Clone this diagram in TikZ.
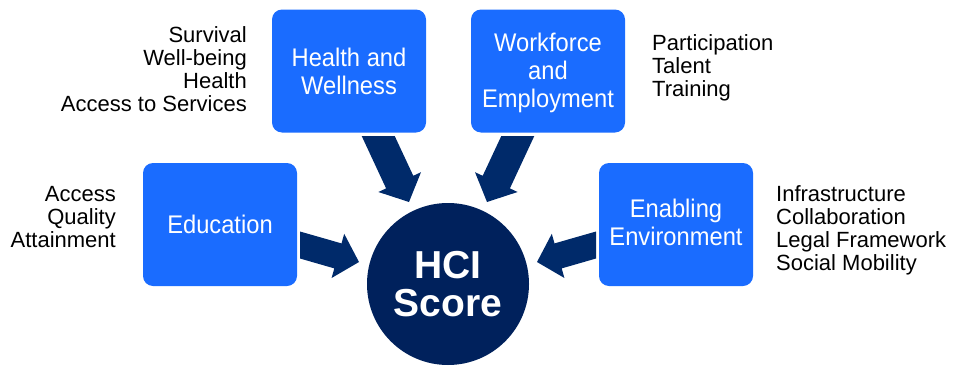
\documentclass[tikz,border=0pt]{standalone}
\usepackage{fontspec}
\setmainfont{Liberation Sans}
\newfontfamily\boxfont[FakeStretch=0.93]{Liberation Sans}
\definecolor{boxblue}{RGB}{26,108,255}
\definecolor{navy}{RGB}{0,33,92}
\definecolor{arrownavy}{RGB}{0,42,106}
\begin{document}
\begin{tikzpicture}[x=1pt,y=-1pt,
  pillar/.style={fill=boxblue, rounded corners=10pt, minimum width=154pt, minimum height=123pt,
    inner sep=0pt, text=white, align=center, font=\boxfont\fontsize{25.5}{28}\selectfont},
  factors/.style={inner sep=0pt, font=\fontsize{22}{23}\selectfont},
  blockarrow/.style={fill=arrownavy}]
\useasboundingbox (0,0) rectangle (953,367);

% block arrows
\fill[blockarrow] (361.7,136) -- (386.1,188.4) -- (378.4,192.0) -- (409,202) -- (421.0,172.2) -- (413.3,175.8) -- (394.7,136) -- cycle;
\fill[blockarrow] (534.3,136) -- (509.9,188.4) -- (517.6,192.0) -- (487,202) -- (475.0,172.2) -- (482.7,175.8) -- (501.3,136) -- cycle;
\fill[blockarrow] (300,231.5) -- (341.5,243.4) -- (344.2,233.8) -- (359,262) -- (331.6,278) -- (334.3,268.4) -- (300,258.5) -- cycle;
\fill[blockarrow] (596,231.5) -- (554.5,243.4) -- (551.8,233.8) -- (537,262) -- (564.4,278) -- (561.7,268.4) -- (596,258.5) -- cycle;

% pillars
\node[pillar] (health) at (349,71) {Health and\\Wellness};
\node[pillar] (work) at (548,71) {\rule{0pt}{22pt}Workforce\\and\\Employment};
\node[pillar] (edu) at (220,224.5) {Education};
\node[pillar] (env) at (676,224.5) {Enabling\\Environment\rule[-4pt]{0pt}{0pt}};

% centre
\node[circle, fill=navy, minimum size=162pt, inner sep=0pt, text=white, align=center,
  font=\bfseries\fontsize{39}{38}\selectfont] (hci) at (448,284) {HCI\\Score};

% factor lists
\node[factors, anchor=north east, align=right] (hwlist) at (247,26.5) {Survival\\Well-being\\Health\\Access to Services};
\node[factors, anchor=north west, align=left] (welist) at (652,34) {Participation\\Talent\\Training};
\node[factors, anchor=north east, align=right] (edulist) at (116,186.5) {Access\\Quality\\Attainment};
\node[factors, anchor=north west, align=left] (envlist) at (776,185) {Infrastructure\\Collaboration\\Legal Framework\\Social Mobility};
\end{tikzpicture}
\end{document}
